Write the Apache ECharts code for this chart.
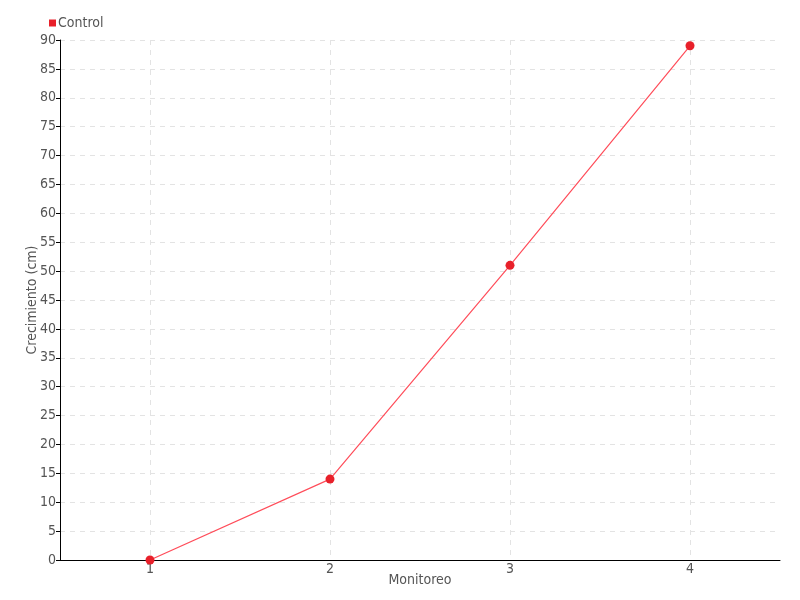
<!DOCTYPE html>
<html>
<head>
<meta charset="utf-8">
<script src="https://cdn.jsdelivr.net/npm/echarts@6/dist/echarts.min.js"></script>
<style>
  html, body { margin: 0; padding: 0; background: #fff; }
  #chart { width: 800px; height: 600px; }
</style>
</head>
<body>
<div id="chart"></div>
<script>
  // datos del monitoreo
  var monitoreos = ['1', '2', '3', '4'];
  var control = [0, 14, 51, 89];

  var fuente = '"DejaVu Sans Condensed", "Liberation Sans Narrow", sans-serif';

  var chart = echarts.init(document.getElementById('chart'));
  chart.setOption({
    textStyle: { fontFamily: fuente },
    legend: {
      left: 44,
      top: 11,
      itemWidth: 7,
      itemHeight: 7,
      itemGap: 4,
      icon: 'rect',
      textStyle: { color: '#555', fontSize: 14, fontFamily: fuente, padding: [0, 0, 0, -3] },
      data: ['Control']
    },
    grid: { left: 60, right: 20, top: 40, bottom: 40 },
    xAxis: {
      type: 'category',
      data: monitoreos,
      name: 'Monitoreo',
      nameLocation: 'middle',
      nameGap: 13,
      nameMoveOverlap: false,
      nameTextStyle: { color: '#555', fontSize: 14 },
      axisLine: { lineStyle: { color: '#000' } },
      axisTick: { alignWithLabel: true, length: 5, lineStyle: { color: '#000' } },
      axisLabel: { color: '#555', fontSize: 14, margin: 2 },
      splitLine: { show: true, alignWithLabel: true, lineStyle: { color: '#e3e3e3', type: [5, 5] } }
    },
    yAxis: {
      type: 'value',
      min: 0,
      max: 90,
      interval: 5,
      name: 'Crecimiento (cm)',
      nameLocation: 'middle',
      nameGap: 21,
      nameMoveOverlap: false,
      nameTextStyle: { color: '#555', fontSize: 14 },
      axisLine: { show: true, lineStyle: { color: '#000' } },
      axisTick: { show: true, length: 4, lineStyle: { color: '#000' } },
      axisLabel: { color: '#555', fontSize: 14, margin: 4 },
      splitLine: { lineStyle: { color: '#e3e3e3', type: [5, 5] } }
    },
    series: [{
      name: 'Control',
      type: 'line',
      data: control,
      symbol: 'circle',
      symbolSize: 9,
      itemStyle: { color: '#e8202a' },
      lineStyle: { color: '#ff4d5a', width: 1.2 },
      animation: false
    }]
  });
</script>
</body>
</html>
